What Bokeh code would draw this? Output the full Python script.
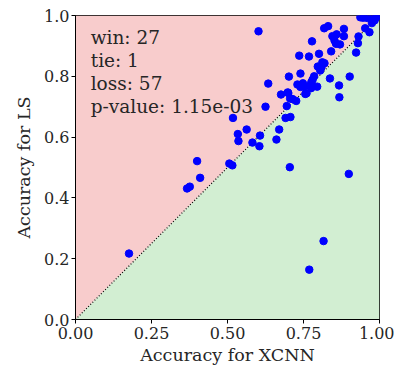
from bokeh.plotting import figure
from bokeh.models import Range1d, FixedTicker, PrintfTickFormatter, Label, ColumnDataSource
from bokeh.embed import file_html
from bokeh.resources import INLINE

# Accuracy values
acc_xcnn = [0.176, 0.367, 0.376, 0.410, 0.400, 0.506, 0.516, 0.602, 0.518, 0.563,
            0.534, 0.536, 0.607, 0.582, 0.605, 0.670, 0.661, 0.705, 0.625, 0.634,
            0.691, 0.707, 0.695, 0.676, 0.698, 0.706, 0.714, 0.726, 0.702, 0.730,
            0.740, 0.748, 0.751, 0.756, 0.760, 0.772, 0.776, 0.780, 0.775, 0.795,
            0.736, 0.768, 0.778, 0.801, 0.797, 0.812, 0.819, 0.805, 0.809, 0.841,
            0.837, 0.867, 0.868, 0.902, 0.923, 0.929, 0.931, 0.818, 0.831, 0.845,
            0.859, 0.852, 0.857, 0.883, 0.883, 0.953, 0.967, 0.937, 0.951, 0.979,
            0.984, 0.989, 0.899, 0.816, 0.769, 0.995, 1.000, 0.960, 0.975, 0.990,
            0.945, 0.740, 0.700, 0.785, 0.870]
acc_ls = [0.217, 0.431, 0.437, 0.466, 0.521, 0.513, 0.507, 0.948, 0.663, 0.625,
          0.610, 0.587, 0.605, 0.582, 0.570, 0.625, 0.592, 0.501, 0.700, 0.776,
          0.663, 0.666, 0.702, 0.740, 0.747, 0.727, 0.725, 0.719, 0.799, 0.773,
          0.809, 0.777, 0.766, 0.742, 0.744, 0.770, 0.781, 0.789, 0.761, 0.766,
          0.868, 0.865, 0.915, 0.874, 0.832, 0.846, 0.843, 0.819, 0.830, 0.882,
          0.793, 0.770, 0.731, 0.799, 0.878, 0.909, 0.931, 0.958, 0.965, 0.932,
          0.938, 0.918, 0.907, 0.956, 0.932, 0.958, 0.945, 0.994, 0.994, 0.992,
          0.984, 0.994, 0.479, 0.258, 0.164, 0.998, 1.000, 0.992, 0.975, 1.000,
          0.993, 0.765, 0.745, 0.800, 0.905]

stats_lines = ["win: 27", "tie: 1", "loss: 57", "p-value: 1.15e-03"]
x_ticks = [0.0, 0.25, 0.5, 0.75, 1.0]
y_ticks = [0.0, 0.2, 0.4, 0.6, 0.8, 1.0]
lo, hi = 0.0, 1.0

FONT = "DejaVu Serif"

p = figure(frame_width=304, frame_height=304, output_backend="svg", toolbar_location=None,
           x_range=Range1d(lo, hi), y_range=Range1d(lo, hi),
           min_border_left=75, min_border_right=15, min_border_top=15, min_border_bottom=50)

p.background_fill_color = "white"
p.border_fill_color = "white"
p.outline_line_color = "black"
p.outline_line_width = 1
p.grid.visible = False

# regions
p.patch([lo, lo, hi], [lo, hi, hi], fill_color="#F8CCCC", line_color=None)
p.patch([lo, hi, hi], [lo, lo, hi], fill_color="#D2EED2", line_color=None)
p.line([lo, hi], [lo, hi], line_color="black", line_dash="1 2", line_width=1.2)

src = ColumnDataSource(dict(x=acc_xcnn, y=acc_ls))
p.scatter("x", "y", source=src, size=7.5, fill_color="#0000FF", line_color="#0000FF")

for i, t in enumerate(stats_lines):
    p.add_layout(Label(x=0.05, y=0.929 - i * 0.0765, text=t, text_font=FONT,
                       text_font_size="18.5px", text_color="#262626", text_baseline="alphabetic"))

p.xaxis.ticker = FixedTicker(ticks=x_ticks)
p.yaxis.ticker = FixedTicker(ticks=y_ticks)
p.xaxis.formatter = PrintfTickFormatter(format="%.2f")
p.yaxis.formatter = PrintfTickFormatter(format="%.1f")
for ax in (p.xaxis, p.yaxis):
    ax.minor_tick_line_color = None
    ax.major_tick_in = 0
    ax.major_tick_out = 4
    ax.major_tick_line_color = "black"
    ax.axis_line_color = "black"
    ax.major_label_text_font = FONT
    ax.major_label_text_font_size = "16px"
    ax.major_label_text_color = "#262626"
    ax.axis_label_text_font = FONT
    ax.axis_label_text_font_size = "17.5px"
    ax.axis_label_text_font_style = "normal"
    ax.axis_label_text_color = "#262626"
p.xaxis.axis_label = "Accuracy for XCNN"
p.yaxis.axis_label = "Accuracy for LS"
p.xaxis.major_label_standoff = 3
p.yaxis.major_label_standoff = 2
p.xaxis.axis_label_standoff = 3
p.yaxis.axis_label_standoff = 7

open("out.html", "w").write(file_html(p, INLINE))
